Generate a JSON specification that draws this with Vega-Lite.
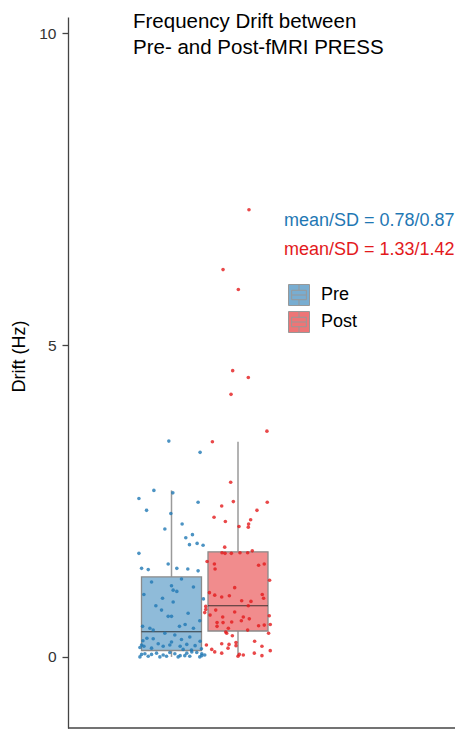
{
  "$schema": "https://vega.github.io/schema/vega-lite/v6.json",
  "width": 387,
  "height": 711,
  "autosize": {"type": "none"},
  "padding": {"left": 68, "top": 17, "right": 5, "bottom": 3},
  "background": "white",
  "config": {"view": {"stroke": null}, "font": "Liberation Sans"},
  "title": {
    "text": ["Frequency Drift between", "Pre- and Post-fMRI PRESS"],
    "anchor": "start",
    "frame": "group",
    "dx": 65,
    "offset": -41,
    "baseline": "top",
    "fontSize": 20.5,
    "fontWeight": "normal",
    "color": "#000",
    "lineHeight": 26
  },
  "datasets": {
    "pts": [
      {"group": "Pre", "drift": 3.46, "jitter": -0.08},
      {"group": "Pre", "drift": 3.28, "jitter": 0.86},
      {"group": "Pre", "drift": 2.67, "jitter": -0.53},
      {"group": "Pre", "drift": 2.63, "jitter": 0.04},
      {"group": "Pre", "drift": 2.54, "jitter": -0.98},
      {"group": "Pre", "drift": 2.48, "jitter": 0.80},
      {"group": "Pre", "drift": 2.35, "jitter": -0.75},
      {"group": "Pre", "drift": 2.30, "jitter": -0.02},
      {"group": "Pre", "drift": 2.13, "jitter": 0.32},
      {"group": "Pre", "drift": 2.05, "jitter": -0.20},
      {"group": "Pre", "drift": 1.96, "jitter": 0.63},
      {"group": "Pre", "drift": 1.91, "jitter": 0.43},
      {"group": "Pre", "drift": 1.82, "jitter": 0.77},
      {"group": "Pre", "drift": 1.80, "jitter": 0.54},
      {"group": "Pre", "drift": 1.79, "jitter": 0.95},
      {"group": "Pre", "drift": 1.66, "jitter": -0.98},
      {"group": "Pre", "drift": 1.49, "jitter": -0.10},
      {"group": "Pre", "drift": 1.42, "jitter": -0.90},
      {"group": "Pre", "drift": 1.40, "jitter": -0.70},
      {"group": "Pre", "drift": 1.42, "jitter": 0.16},
      {"group": "Pre", "drift": 1.41, "jitter": 0.49},
      {"group": "Pre", "drift": 1.38, "jitter": 0.80},
      {"group": "Pre", "drift": 1.25, "jitter": 0.30},
      {"group": "Pre", "drift": 1.20, "jitter": -0.60},
      {"group": "Pre", "drift": 1.14, "jitter": 0.00},
      {"group": "Pre", "drift": 1.12, "jitter": 0.66},
      {"group": "Pre", "drift": 1.07, "jitter": 0.05},
      {"group": "Pre", "drift": 1.05, "jitter": 0.16},
      {"group": "Pre", "drift": 1.00, "jitter": -0.83},
      {"group": "Pre", "drift": 0.94, "jitter": -0.27},
      {"group": "Pre", "drift": 0.93, "jitter": 0.96},
      {"group": "Pre", "drift": 0.88, "jitter": 0.05},
      {"group": "Pre", "drift": 0.82, "jitter": -0.47},
      {"group": "Pre", "drift": 0.75, "jitter": -0.30},
      {"group": "Pre", "drift": 0.70, "jitter": 0.50},
      {"group": "Pre", "drift": 0.65, "jitter": -0.10},
      {"group": "Pre", "drift": 0.65, "jitter": 0.00},
      {"group": "Pre", "drift": 0.58, "jitter": 0.85},
      {"group": "Pre", "drift": 0.52, "jitter": 0.41},
      {"group": "Pre", "drift": 0.49, "jitter": -0.87},
      {"group": "Pre", "drift": 0.49, "jitter": 0.24},
      {"group": "Pre", "drift": 0.46, "jitter": -0.65},
      {"group": "Pre", "drift": 0.46, "jitter": 0.66},
      {"group": "Pre", "drift": 0.43, "jitter": -0.55},
      {"group": "Pre", "drift": 0.38, "jitter": -0.20},
      {"group": "Pre", "drift": 0.35, "jitter": 0.10},
      {"group": "Pre", "drift": 0.32, "jitter": 0.55},
      {"group": "Pre", "drift": 0.30, "jitter": -0.74},
      {"group": "Pre", "drift": 0.29, "jitter": -0.55},
      {"group": "Pre", "drift": 0.28, "jitter": 0.30},
      {"group": "Pre", "drift": 0.26, "jitter": -0.86},
      {"group": "Pre", "drift": 0.25, "jitter": 0.86},
      {"group": "Pre", "drift": 0.24, "jitter": 0.00},
      {"group": "Pre", "drift": 0.21, "jitter": -0.40},
      {"group": "Pre", "drift": 0.20, "jitter": 0.46},
      {"group": "Pre", "drift": 0.19, "jitter": -0.90},
      {"group": "Pre", "drift": 0.19, "jitter": -0.05},
      {"group": "Pre", "drift": 0.18, "jitter": 0.71},
      {"group": "Pre", "drift": 0.17, "jitter": -0.83},
      {"group": "Pre", "drift": 0.17, "jitter": -0.25},
      {"group": "Pre", "drift": 0.17, "jitter": 0.26},
      {"group": "Pre", "drift": 0.15, "jitter": -0.95},
      {"group": "Pre", "drift": 0.14, "jitter": -0.60},
      {"group": "Pre", "drift": 0.13, "jitter": 0.90},
      {"group": "Pre", "drift": 0.12, "jitter": 0.35},
      {"group": "Pre", "drift": 0.11, "jitter": 0.60},
      {"group": "Pre", "drift": 0.08, "jitter": 0.61},
      {"group": "Pre", "drift": 0.07, "jitter": -0.05},
      {"group": "Pre", "drift": 0.07, "jitter": 0.76},
      {"group": "Pre", "drift": 0.06, "jitter": -0.45},
      {"group": "Pre", "drift": 0.06, "jitter": 0.46},
      {"group": "Pre", "drift": 0.05, "jitter": -0.80},
      {"group": "Pre", "drift": 0.05, "jitter": 0.10},
      {"group": "Pre", "drift": 0.05, "jitter": 0.91},
      {"group": "Pre", "drift": 0.04, "jitter": -0.60},
      {"group": "Pre", "drift": 0.04, "jitter": -0.90},
      {"group": "Pre", "drift": 0.03, "jitter": -0.25},
      {"group": "Pre", "drift": 0.03, "jitter": 1.00},
      {"group": "Pre", "drift": 0.02, "jitter": 0.26},
      {"group": "Pre", "drift": 0.02, "jitter": 0.91},
      {"group": "Pre", "drift": 0.02, "jitter": 0.40},
      {"group": "Pre", "drift": 0.01, "jitter": -0.70},
      {"group": "Pre", "drift": 0.01, "jitter": -0.15},
      {"group": "Pre", "drift": 0.01, "jitter": 0.55},
      {"group": "Pre", "drift": 0.00, "jitter": -0.95},
      {"group": "Pre", "drift": 0.00, "jitter": -0.35},
      {"group": "Pre", "drift": 0.00, "jitter": 0.20},
      {"group": "Pre", "drift": 0.00, "jitter": 0.85},
      {"group": "Post", "drift": 7.17, "jitter": 0.33},
      {"group": "Post", "drift": 6.21, "jitter": -0.45},
      {"group": "Post", "drift": 5.89, "jitter": 0.01},
      {"group": "Post", "drift": 4.59, "jitter": -0.16},
      {"group": "Post", "drift": 4.48, "jitter": 0.31},
      {"group": "Post", "drift": 4.21, "jitter": -0.21},
      {"group": "Post", "drift": 3.62, "jitter": 0.87},
      {"group": "Post", "drift": 3.45, "jitter": -0.77},
      {"group": "Post", "drift": 2.80, "jitter": -0.22},
      {"group": "Post", "drift": 2.49, "jitter": -0.14},
      {"group": "Post", "drift": 2.48, "jitter": 0.88},
      {"group": "Post", "drift": 2.42, "jitter": -0.49},
      {"group": "Post", "drift": 2.35, "jitter": 0.57},
      {"group": "Post", "drift": 2.24, "jitter": -0.72},
      {"group": "Post", "drift": 2.20, "jitter": 0.38},
      {"group": "Post", "drift": 2.17, "jitter": -0.38},
      {"group": "Post", "drift": 2.13, "jitter": 0.32},
      {"group": "Post", "drift": 2.09, "jitter": 0.03},
      {"group": "Post", "drift": 2.08, "jitter": 0.31},
      {"group": "Post", "drift": 1.76, "jitter": -0.40},
      {"group": "Post", "drift": 1.70, "jitter": 0.43},
      {"group": "Post", "drift": 1.67, "jitter": -0.48},
      {"group": "Post", "drift": 1.66, "jitter": -0.39},
      {"group": "Post", "drift": 1.66, "jitter": -0.20},
      {"group": "Post", "drift": 1.67, "jitter": 0.06},
      {"group": "Post", "drift": 1.67, "jitter": 0.29},
      {"group": "Post", "drift": 1.53, "jitter": -0.93},
      {"group": "Post", "drift": 1.49, "jitter": -0.71},
      {"group": "Post", "drift": 1.49, "jitter": 0.79},
      {"group": "Post", "drift": 1.47, "jitter": 0.62},
      {"group": "Post", "drift": 1.41, "jitter": -0.69},
      {"group": "Post", "drift": 1.23, "jitter": 0.95},
      {"group": "Post", "drift": 1.11, "jitter": -0.10},
      {"group": "Post", "drift": 1.03, "jitter": -0.86},
      {"group": "Post", "drift": 1.00, "jitter": 0.73},
      {"group": "Post", "drift": 0.99, "jitter": -0.70},
      {"group": "Post", "drift": 0.98, "jitter": -0.26},
      {"group": "Post", "drift": 0.96, "jitter": -0.49},
      {"group": "Post", "drift": 0.94, "jitter": 0.77},
      {"group": "Post", "drift": 0.90, "jitter": 0.11},
      {"group": "Post", "drift": 0.89, "jitter": 0.39},
      {"group": "Post", "drift": 0.82, "jitter": 0.31},
      {"group": "Post", "drift": 0.81, "jitter": -0.97},
      {"group": "Post", "drift": 0.76, "jitter": -0.97},
      {"group": "Post", "drift": 0.75, "jitter": -0.67},
      {"group": "Post", "drift": 0.72, "jitter": -0.10},
      {"group": "Post", "drift": 0.71, "jitter": -1.00},
      {"group": "Post", "drift": 0.67, "jitter": -0.84},
      {"group": "Post", "drift": 0.66, "jitter": 0.94},
      {"group": "Post", "drift": 0.64, "jitter": -0.46},
      {"group": "Post", "drift": 0.64, "jitter": 0.16},
      {"group": "Post", "drift": 0.61, "jitter": 0.34},
      {"group": "Post", "drift": 0.58, "jitter": 0.10},
      {"group": "Post", "drift": 0.56, "jitter": -0.19},
      {"group": "Post", "drift": 0.55, "jitter": -0.63},
      {"group": "Post", "drift": 0.55, "jitter": -0.45},
      {"group": "Post", "drift": 0.52, "jitter": 0.97},
      {"group": "Post", "drift": 0.51, "jitter": 0.79},
      {"group": "Post", "drift": 0.50, "jitter": 0.62},
      {"group": "Post", "drift": 0.49, "jitter": -0.63},
      {"group": "Post", "drift": 0.46, "jitter": -0.29},
      {"group": "Post", "drift": 0.43, "jitter": 0.29},
      {"group": "Post", "drift": 0.40, "jitter": -0.37},
      {"group": "Post", "drift": 0.38, "jitter": -0.34},
      {"group": "Post", "drift": 0.38, "jitter": 0.92},
      {"group": "Post", "drift": 0.34, "jitter": -0.17},
      {"group": "Post", "drift": 0.25, "jitter": 0.50},
      {"group": "Post", "drift": 0.23, "jitter": -0.06},
      {"group": "Post", "drift": 0.21, "jitter": -0.49},
      {"group": "Post", "drift": 0.20, "jitter": -0.27},
      {"group": "Post", "drift": 0.19, "jitter": -0.95},
      {"group": "Post", "drift": 0.18, "jitter": -0.06},
      {"group": "Post", "drift": 0.17, "jitter": 0.72},
      {"group": "Post", "drift": 0.14, "jitter": -0.30},
      {"group": "Post", "drift": 0.12, "jitter": -0.79},
      {"group": "Post", "drift": 0.10, "jitter": 0.97},
      {"group": "Post", "drift": 0.08, "jitter": -0.70},
      {"group": "Post", "drift": 0.06, "jitter": -0.49},
      {"group": "Post", "drift": 0.06, "jitter": 0.49},
      {"group": "Post", "drift": 0.04, "jitter": 0.04},
      {"group": "Post", "drift": 0.03, "jitter": 0.16},
      {"group": "Post", "drift": 0.02, "jitter": 0.72},
      {"group": "Post", "drift": 0.01, "jitter": 0.00}
    ],
    "ann": [
      {"group": "Pre", "drift": 6.91, "label": "mean/SD = 0.78/0.87"},
      {"group": "Post", "drift": 6.45, "label": "mean/SD = 1.33/1.42"}
    ],
    "base": [
      {"drift": -1.14}
    ]
  },
  "layer": [
    {
      "data": {"name": "pts"},
      "mark": {
        "type": "boxplot",
        "extent": 1.5,
        "size": 60,
        "outliers": false,
        "ticks": false,
        "box": {"fillOpacity": 0.5, "stroke": "#8a8a8a", "strokeWidth": 1.3},
        "median": {"color": "#222222", "strokeWidth": 1.6, "opacity": 0.85},
        "rule": {"color": "#9a9a9a", "strokeWidth": 1.5}
      },
      "encoding": {
        "x": {
          "field": "group", "type": "nominal",
          "scale": {"domain": ["Pre", "Post"], "paddingInner": 0, "paddingOuter": 0, "range": [70.25, 203.25]},
          "axis": null
        },
        "y": {
          "field": "drift", "type": "quantitative",
          "scale": {"domain": [-1.14, 10.26], "nice": false, "zero": false},
          "axis": {
            "values": [0, 5, 10], "format": "d", "grid": false, "title": "Drift (Hz)",
            "titleFontSize": 18, "titleFontWeight": "normal", "titleColor": "#000000",
            "titleX": -49, "titleY": 339, "titleBaseline": "middle",
            "labelFontSize": 15.5, "labelColor": "#333333", "labelPadding": 6,
            "tickSize": 6, "tickColor": "#444444", "tickWidth": 1.3,
            "domainColor": "#444444", "domainWidth": 1.3
          }
        },
        "color": {
          "field": "group", "type": "nominal",
          "scale": {"domain": ["Pre", "Post"], "range": ["#1f78b4", "#e31a1c"]},
          "legend": {
            "title": null, "orient": "none", "legendX": 220, "legendY": 267,
            "symbolType": "M-1,-1H1V1H-1Z M-0.7,-0.45H0.7V0.45H-0.7Z M-0.7,0H0.7 M0,-1V-0.45 M0,0.45V1",
            "symbolSize": 441, "symbolOpacity": 0.6, "labelFontSize": 18, "labelColor": "#000000",
            "labelOffset": 11, "rowPadding": 1, "padding": 0,
            "encode": {
              "symbols": {
                "update": {
                  "stroke": {"value": "#555555"},
                  "strokeWidth": {"value": 1}
                }
              }
            }
          }
        }
      }
    },
    {
      "data": {"name": "pts"},
      "mark": {"type": "point", "filled": true, "size": 13, "opacity": 0.8},
      "encoding": {
        "x": {"field": "group", "type": "nominal"},
        "xOffset": {"field": "jitter", "type": "quantitative", "scale": {"domain": [-1, 1]}},
        "y": {"field": "drift", "type": "quantitative"},
        "color": {"field": "group", "type": "nominal", "legend": null}
      }
    },
    {
      "data": {"name": "ann"},
      "mark": {"type": "text", "align": "left", "baseline": "alphabetic", "dx": 46, "fontSize": 18},
      "encoding": {
        "x": {"datum": "Post", "type": "nominal"},
        "y": {"field": "drift", "type": "quantitative"},
        "text": {"field": "label"},
        "color": {"field": "group", "type": "nominal", "legend": null}
      }
    },
    {
      "data": {"name": "base"},
      "mark": {"type": "rule", "color": "#444444", "strokeWidth": 1.3},
      "encoding": {"y": {"field": "drift", "type": "quantitative"}}
    }
  ]
}
